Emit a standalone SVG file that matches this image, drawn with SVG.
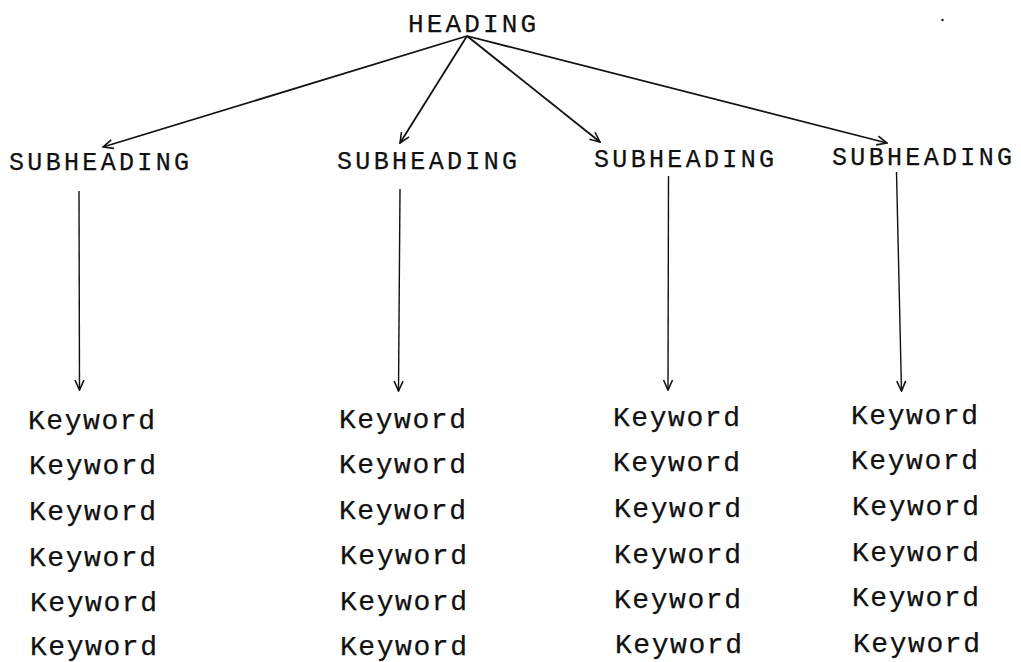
<svg xmlns="http://www.w3.org/2000/svg" width="1021" height="662" viewBox="0 0 1021 662">
<style>
.t{font-family:"Liberation Mono","DejaVu Sans Mono",monospace;fill:#111;stroke:#111;stroke-width:0.25;}
.h{font-size:26px;}
.s{font-size:25px;}
.k{font-size:28px;}
.c line{stroke:#111;stroke-width:1.8;fill:none;}
.c .v{stroke-width:1.4;}
</style>
<defs>
<marker id="ah" viewBox="0 0 12 12" refX="11" refY="6" markerWidth="12" markerHeight="12" markerUnits="userSpaceOnUse" orient="auto">
<path d="M1,1.5 L11,6 L1,10.5" fill="none" stroke="#111" stroke-width="1.6"/>
</marker>
</defs>
<rect width="1021" height="662" fill="#fff"/>
<g id="heading"><text class="t h" x="408" y="31.5" textLength="128" lengthAdjust="spacing">HEADING</text></g>
<g id="sub1"><text class="t s" x="9" y="170" textLength="180" lengthAdjust="spacing">SUBHEADING</text></g>
<g id="sub2"><text class="t s" x="337" y="169" textLength="180" lengthAdjust="spacing">SUBHEADING</text></g>
<g id="sub3"><text class="t s" x="594" y="166.5" textLength="180" lengthAdjust="spacing">SUBHEADING</text></g>
<g id="sub4"><text class="t s" x="832" y="165" textLength="180" lengthAdjust="spacing">SUBHEADING</text></g>
<g id="kw1">
<text class="t k" x="28" y="429" textLength="127" lengthAdjust="spacing">Keyword</text>
<text class="t k" x="29" y="474" textLength="127" lengthAdjust="spacing">Keyword</text>
<text class="t k" x="29" y="520" textLength="127" lengthAdjust="spacing">Keyword</text>
<text class="t k" x="29" y="566" textLength="127" lengthAdjust="spacing">Keyword</text>
<text class="t k" x="30" y="611" textLength="127" lengthAdjust="spacing">Keyword</text>
<text class="t k" x="30" y="655" textLength="127" lengthAdjust="spacing">Keyword</text>
</g>
<g id="kw2">
<text class="t k" x="339" y="428" textLength="127" lengthAdjust="spacing">Keyword</text>
<text class="t k" x="339" y="473" textLength="127" lengthAdjust="spacing">Keyword</text>
<text class="t k" x="339" y="519" textLength="127" lengthAdjust="spacing">Keyword</text>
<text class="t k" x="340" y="564" textLength="127" lengthAdjust="spacing">Keyword</text>
<text class="t k" x="340" y="610" textLength="127" lengthAdjust="spacing">Keyword</text>
<text class="t k" x="340" y="655" textLength="127" lengthAdjust="spacing">Keyword</text>
</g>
<g id="kw3">
<text class="t k" x="613" y="426" textLength="127" lengthAdjust="spacing">Keyword</text>
<text class="t k" x="613" y="471" textLength="127" lengthAdjust="spacing">Keyword</text>
<text class="t k" x="614" y="517" textLength="127" lengthAdjust="spacing">Keyword</text>
<text class="t k" x="614" y="563" textLength="127" lengthAdjust="spacing">Keyword</text>
<text class="t k" x="614" y="608" textLength="127" lengthAdjust="spacing">Keyword</text>
<text class="t k" x="615" y="653" textLength="127" lengthAdjust="spacing">Keyword</text>
</g>
<g id="kw4">
<text class="t k" x="851" y="424" textLength="127" lengthAdjust="spacing">Keyword</text>
<text class="t k" x="851" y="469" textLength="127" lengthAdjust="spacing">Keyword</text>
<text class="t k" x="852" y="515" textLength="127" lengthAdjust="spacing">Keyword</text>
<text class="t k" x="852" y="561" textLength="127" lengthAdjust="spacing">Keyword</text>
<text class="t k" x="852" y="606" textLength="127" lengthAdjust="spacing">Keyword</text>
<text class="t k" x="853" y="652" textLength="127" lengthAdjust="spacing">Keyword</text>
</g>
<g id="connectors" class="c">
<line x1="467" y1="36" x2="103" y2="147" marker-end="url(#ah)"/>
<line x1="467" y1="36" x2="400" y2="143" marker-end="url(#ah)"/>
<line x1="467" y1="36" x2="600" y2="142" marker-end="url(#ah)"/>
<line x1="467" y1="36" x2="887" y2="143" marker-end="url(#ah)"/>
<line class="v" x1="79" y1="191" x2="79.5" y2="390" marker-end="url(#ah)"/>
<line class="v" x1="400" y1="189" x2="398.5" y2="391" marker-end="url(#ah)"/>
<line class="v" x1="668.5" y1="176" x2="668" y2="390" marker-end="url(#ah)"/>
<line class="v" x1="896.5" y1="172" x2="901.5" y2="391" marker-end="url(#ah)"/>
</g>
<circle cx="942.5" cy="20" r="1.2" fill="#111"/>
</svg>
